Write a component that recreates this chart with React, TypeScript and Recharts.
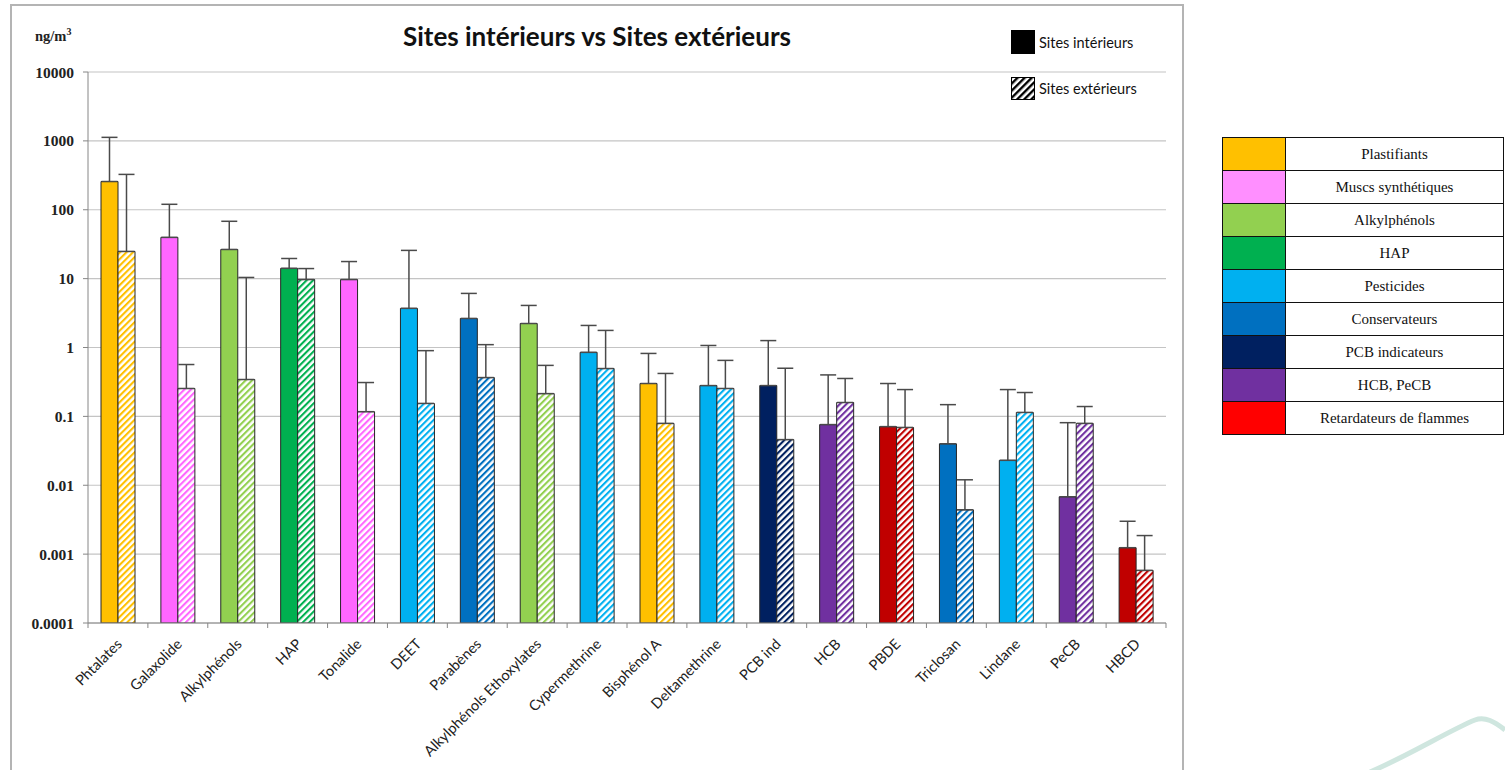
import React from 'react';
import { BarChart, Bar, XAxis, YAxis, CartesianGrid, ErrorBar, Cell } from 'recharts';

const categories = ['Phtalates', 'Galaxolide', 'Alkylphénols', 'HAP', 'Tonalide', 'DEET', 'Parabènes', 'Alkylphénols Ethoxylates', 'Cypermethrine', 'Bisphénol A', 'Deltamethrine', 'PCB ind', 'HCB', 'PBDE', 'Triclosan', 'Lindane', 'PeCB', 'HBCD'];
const indoorValues = [257, 39.7, 26.5, 14.1, 9.7, 3.7, 2.64, 2.23, 0.85, 0.3, 0.28, 0.28, 0.076, 0.071, 0.04, 0.023, 0.0068, 0.00124];
const indoorUpper = [1125, 120, 68, 19.6, 17.7, 25.7, 6.1, 4.08, 2.09, 0.82, 1.07, 1.26, 0.4, 0.3, 0.148, 0.245, 0.081, 0.003];
const outdoorValues = [24.8, 0.254, 0.343, 9.7, 0.117, 0.154, 0.366, 0.214, 0.495, 0.079, 0.254, 0.046, 0.159, 0.069, 0.0044, 0.114, 0.079, 0.00058];
const outdoorUpper = [326, 0.566, 10.4, 14, 0.31, 0.9, 1.1, 0.55, 1.77, 0.42, 0.65, 0.5, 0.355, 0.245, 0.012, 0.222, 0.139, 0.00186];
const barColors = ['#FFC000', '#FF66FF', '#92D050', '#00B050', '#FF66FF', '#00B0F0', '#0070C0', '#92D050', '#00B0F0', '#FFC000', '#00B0F0', '#002060', '#7030A0', '#C00000', '#0070C0', '#00B0F0', '#7030A0', '#C00000'];
const yTicks = [0.0001, 0.001, 0.01, 0.1, 1, 10, 100, 1000, 10000];
const families = ['Plastifiants', 'Muscs synthétiques', 'Alkylphénols', 'HAP', 'Pesticides', 'Conservateurs', 'PCB indicateurs', 'HCB, PeCB', 'Retardateurs de flammes'];
const familyColors = ['#FFC000', '#FF8FFF', '#92D050', '#00B050', '#00B0F0', '#0070C0', '#002060', '#7030A0', '#FF0000'];
const seriesNames = ['Sites intérieurs', 'Sites extérieurs'];

const data = categories.map((name, i) => ({
  name,
  indoor: indoorValues[i],
  outdoor: outdoorValues[i],
  inErr: [0, indoorUpper[i] - indoorValues[i]],
  outErr: [0, outdoorUpper[i] - outdoorValues[i]],
}));

const CHART_W = 1200;
const CHART_H = 770;
const M = { top: 72, right: 34, left: 20, bottom: 37 };
const Y_W = 68;
const STEP = (CHART_W - M.left - M.right - Y_W) / categories.length;

const SANS = 'Lato, "Open Sans", sans-serif';
const SERIF = '"Liberation Serif", "DejaVu Serif", serif';

const XTick = (props: any) => {
  const { x, y, payload, index } = props;
  return (
    <g transform={`translate(${x},${y})`}>
      <line x1={-STEP / 2} x2={-STEP / 2} y1={0} y2={5} stroke="#868686" />
      {index === categories.length - 1 && <line x1={STEP / 2} x2={STEP / 2} y1={0} y2={5} stroke="#868686" />}
      <text transform="translate(5,22) rotate(-45)" textAnchor="end" fontFamily={SANS} fontSize={14.5} fill="#222">
        {payload.value}
      </text>
    </g>
  );
};

export default function App() {
  return (
    <div style={{ position: 'absolute', left: 0, top: 0, width: 1505, height: 770, overflow: 'hidden', background: '#fff' }}>
      <div style={{ position: 'absolute', left: 10, top: 4, width: 1174, height: 800, border: '2px solid #b4b4b4', boxSizing: 'border-box' }} />
      <div style={{ position: 'absolute', left: 0, top: 0 }}>
        <BarChart width={CHART_W} height={CHART_H} data={data} margin={M} barGap={0}>
          <defs>
            {barColors.map((c, i) => (
              <pattern key={i} id={`hatch-${i}`} patternUnits="userSpaceOnUse" width={4.6} height={4.6} patternTransform="rotate(45)">
                <rect x={0} y={0} width={4.6} height={4.6} fill="#fff" />
                <rect x={0} y={0} width={2.1} height={4.6} fill={c} />
              </pattern>
            ))}
          </defs>
          <CartesianGrid vertical={false} stroke="#c4c4c4" strokeWidth={1.2} />
          <XAxis dataKey="name" interval={0} tickSize={0} tickMargin={0} height={110} axisLine={{ stroke: '#868686' }} tick={<XTick />} />
          <YAxis
            scale="log"
            domain={[0.0001, 10000]}
            ticks={yTicks}
            allowDataOverflow
            width={Y_W}
            tickSize={5}
            tickMargin={9}
            axisLine={{ stroke: '#868686' }}
            tickLine={{ stroke: '#868686' }}
            tickFormatter={(v: number) => String(v)}
            tick={{ fontFamily: SERIF, fontSize: 15.5, fontWeight: 700, fill: '#222' }}
          />
          <Bar dataKey="indoor" name={seriesNames[0]} barSize={17} isAnimationActive={false} stroke="#262626" strokeWidth={1}>
            {data.map((d, i) => (
              <Cell key={i} fill={barColors[i]} />
            ))}
            <ErrorBar dataKey="inErr" width={8} stroke="#4a4a4a" strokeWidth={1.5} direction="y" />
          </Bar>
          <Bar dataKey="outdoor" name={seriesNames[1]} barSize={17} isAnimationActive={false} stroke="#262626" strokeWidth={1}>
            {data.map((d, i) => (
              <Cell key={i} fill={`url(#hatch-${i})`} />
            ))}
            <ErrorBar dataKey="outErr" width={8} stroke="#4a4a4a" strokeWidth={1.5} direction="y" />
          </Bar>
        </BarChart>
      </div>

      {/* Title and unit */}
      <div style={{ position: 'absolute', left: 340, width: 514, top: 20, textAlign: 'center', fontFamily: SANS, fontWeight: 700, fontSize: 26, lineHeight: '32px', color: '#111' }}>
        Sites intérieurs vs Sites extérieurs
      </div>
      <div style={{ position: 'absolute', left: 35, top: 22, fontFamily: SERIF, fontSize: 14.5, fontWeight: 700, color: '#222', lineHeight: '20px' }}>
        ng/m<sup style={{ fontSize: 10 }}>3</sup>
      </div>

      {/* Series legend */}
      <svg style={{ position: 'absolute', left: 1005, top: 25 }} width={170} height={80}>
        <defs>
          <pattern id="hatch-lg2" patternUnits="userSpaceOnUse" width={5} height={5} patternTransform="rotate(45)">
            <rect x={0} y={0} width={5} height={5} fill="#fff" />
            <rect x={0} y={0} width={2.4} height={5} fill="#000" />
          </pattern>
        </defs>
        <rect x={6} y={5} width={24} height={24} fill="#000" />
        <text x={34} y={23} fontFamily={SANS} fontSize={14.5} fill="#111">{seriesNames[0]}</text>
        <rect x={6.5} y={52.5} width={23} height={22} fill="url(#hatch-lg2)" stroke="#000" strokeWidth={1} />
        <text x={34} y={69} fontFamily={SANS} fontSize={14.5} fill="#111">{seriesNames[1]}</text>
      </svg>

      {/* Family table legend */}
      <table style={{ position: 'absolute', left: 1222, top: 137, width: 282, borderCollapse: 'collapse', fontFamily: SERIF, fontSize: 15, color: '#111' }}>
        <tbody>
          {families.map((f, i) => (
            <tr key={f} style={{ height: 33 }}>
              <td style={{ width: 62, background: familyColors[i], border: '1px solid #111', padding: 0 }} />
              <td style={{ border: '1px solid #111', textAlign: 'center', padding: 0 }}>{f}</td>
            </tr>
          ))}
        </tbody>
      </table>

      {/* faint logo fragment */}
      <svg style={{ position: 'absolute', left: 1340, top: 700 }} width={165} height={70}>
        <path d="M 30 72 C 70 55, 110 30, 135 20 C 145 16, 155 22, 165 30" stroke="#cfe6df" strokeWidth={5} fill="none" />
      </svg>
    </div>
  );
}
